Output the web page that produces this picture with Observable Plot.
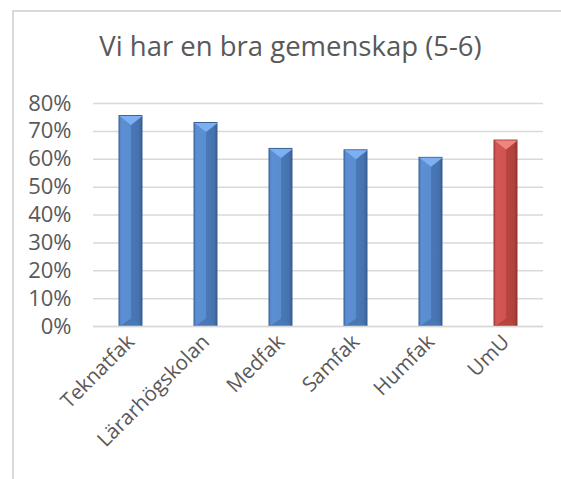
<!DOCTYPE html>
<html>
<head>
<meta charset="utf-8">
<script src="https://cdn.jsdelivr.net/npm/d3@7"></script>
<script src="https://cdn.jsdelivr.net/npm/@observablehq/plot@0.6"></script>
<style>
  html, body { margin: 0; padding: 0; background: #fff; width: 561px; height: 479px; overflow: hidden; }
  #frame { position: absolute; left: 12px; top: 10px; width: 600px; height: 500px;
           border-left: 2px solid #d9d9d9; border-top: 2px solid #d9d9d9; }
  #title { position: absolute; left: 0; top: 0; width: 561px; height: 80px; text-align: center;
           font-family: "Open Sans", sans-serif; font-size: 27.5px; color: #595959; line-height: 1; }
  #title span { position: relative; top: 32px; left: 10px; }
  #chart { position: absolute; left: 0; top: 80px; }
</style>
</head>
<body>
<div id="frame"></div>
<div id="title"><span>Vi har en bra gemenskap (5-6)</span></div>
<div id="chart"></div>
<script>
const categories = ["Teknatfak", "Lärarhögskolan", "Medfak", "Samfak", "Humfak", "UmU"];
const values = [0.755, 0.73, 0.637, 0.632, 0.605, 0.667];
const highlight = "UmU";
const yTicks = [0, 0.1, 0.2, 0.3, 0.4, 0.5, 0.6, 0.7, 0.8];

const data = categories.map((c, i) => ({ name: c, value: values[i] }));
const blue = data.filter(d => d.name !== highlight);
const red = data.filter(d => d.name === highlight);

const topTri = { draw(ctx) { ctx.moveTo(-11.5, 0); ctx.lineTo(11.5, 0); ctx.lineTo(0, 9); ctx.closePath(); } };
const botTri = { draw(ctx) { ctx.moveTo(-11.5, 0); ctx.lineTo(11.5, 0); ctx.lineTo(0, -8); ctx.closePath(); } };

const plot = Plot.plot({
  width: 561,
  height: 399,
  marginTop: 23,
  marginBottom: 153,
  marginLeft: 93,
  marginRight: 18,
  style: { fontFamily: "Open Sans, sans-serif", fontSize: "20.5px", color: "#595959", background: "transparent" },
  x: { domain: categories, paddingInner: 0.69, paddingOuter: 0.345, label: null },
  y: { domain: [0, 0.8], label: null },
  marks: [
    Plot.gridY(yTicks, { stroke: "#d9d9d9", strokeOpacity: 1, strokeWidth: 1.5 }),
    Plot.axisY(yTicks, { tickFormat: d => Math.round(d * 100) + "%", tickSize: 0, tickPadding: 22, fill: "#595959", fontSize: 22 }),
    Plot.axisX({ tickRotate: -45, tickSize: 0, tickPadding: 12, fill: "#595959", fontSize: 20.5 }),
    Plot.barY(blue, { x: "name", y: "value", fill: "url(#gBlue)", stroke: "#3b6194", strokeWidth: 1 }),
    Plot.barY(red, { x: "name", y: "value", fill: "url(#gRed)", stroke: "#93392f", strokeWidth: 1 }),
    Plot.dot(blue, { x: "name", y: "value", symbol: topTri, fill: "#7db0f2", stroke: "none" }),
    Plot.dot(red, { x: "name", y: "value", symbol: topTri, fill: "#f08580", stroke: "none" }),
    Plot.dot(blue, { x: "name", y: () => 0, symbol: botTri, fill: "#4a78b5", stroke: "none" }),
    Plot.dot(red, { x: "name", y: () => 0, symbol: botTri, fill: "#b8443f", stroke: "none" }),
    Plot.ruleY([0], { stroke: "#d9d9d9", strokeWidth: 1.5 })
  ]
});

const ns = "http://www.w3.org/2000/svg";
const defs = document.createElementNS(ns, "defs");
function grad(id, stops) {
  const g = document.createElementNS(ns, "linearGradient");
  g.setAttribute("id", id);
  g.setAttribute("x1", "0"); g.setAttribute("x2", "1"); g.setAttribute("y1", "0"); g.setAttribute("y2", "0");
  for (const [o, c] of stops) {
    const s = document.createElementNS(ns, "stop");
    s.setAttribute("offset", o); s.setAttribute("stop-color", c);
    g.appendChild(s);
  }
  defs.appendChild(g);
}
grad("gBlue", [[0, "#4f80c2"], [0.12, "#5b8fd3"], [0.5, "#5a8dd0"], [0.52, "#4a79b8"], [0.88, "#4572ad"], [1, "#375c8d"]]);
grad("gRed", [[0, "#c24b47"], [0.12, "#d35753"], [0.5, "#d0534f"], [0.52, "#b8453f"], [0.88, "#b0413c"], [1, "#8e3531"]]);
plot.insertBefore(defs, plot.firstChild);

document.getElementById("chart").appendChild(plot);
</script>
</body>
</html>
